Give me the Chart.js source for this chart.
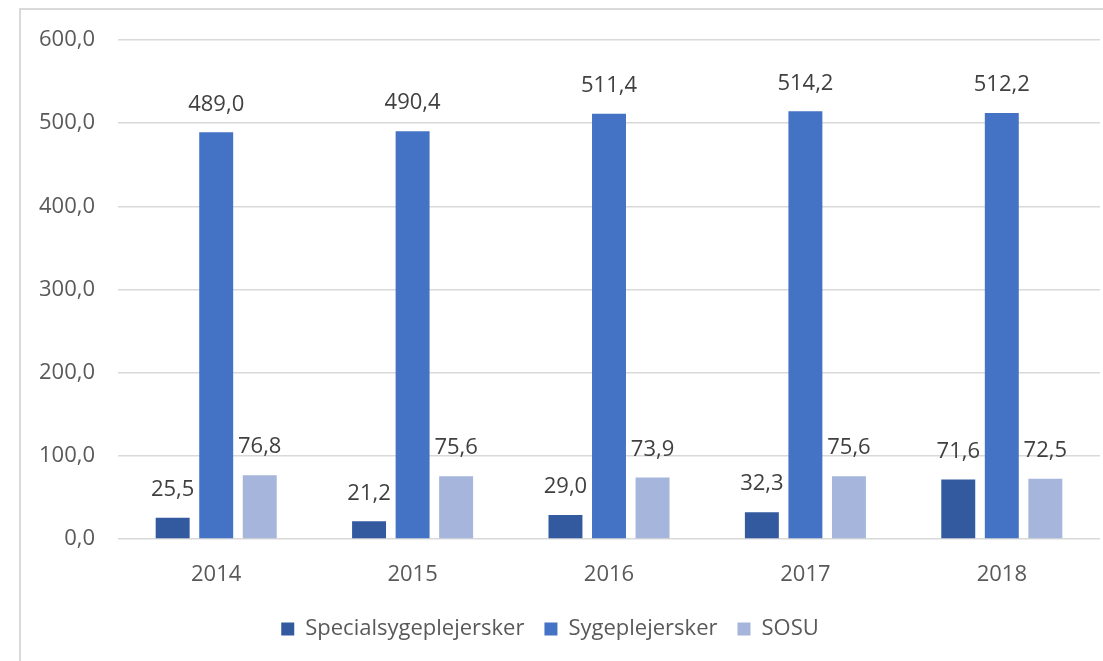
<!DOCTYPE html>
<html>
<head>
<meta charset="utf-8">
<script src="https://cdn.jsdelivr.net/npm/chart.js@4.4.1/dist/chart.umd.min.js"></script>
<style>
  html, body { margin: 0; padding: 0; background: #fff; }
  #frame { position: absolute; left: 19px; top: 8px; width: 1200px; height: 800px; border: 2px solid #d9d9d9; }
  #wrap { position: absolute; left: 0; top: 0; width: 1103px; height: 661px; }
</style>
</head>
<body>
<div id="frame"></div>
<div id="wrap"><canvas id="chart" width="1103" height="661"></canvas></div>
<script>
// kategorier (år)
const years = ['2014', '2015', '2016', '2017', '2018'];
// serier
const special = [25.5, 21.2, 29.0, 32.3, 71.6];
const syge = [489.0, 490.4, 511.4, 514.2, 512.2];
const sosu = [76.8, 75.6, 73.9, 75.6, 72.5];
// y-akse
const yTicks = [0, 100, 200, 300, 400, 500, 600];

const fmt = v => v.toFixed(1).replace('.', ',');
const FONT = 'Open Sans';

// tegner værdierne over søjlerne
const valueLabels = {
    id: 'valueLabels',
    afterDatasetsDraw(chart) {
        const ctx = chart.ctx;
        ctx.save();
        ctx.font = '22px "' + FONT + '"';
        ctx.fillStyle = '#404040';
        ctx.textAlign = 'center';
        ctx.textBaseline = 'bottom';
        chart.data.datasets.forEach((ds, i) => {
            chart.getDatasetMeta(i).data.forEach((bar, j) => {
                ctx.fillText(fmt(ds.data[j]), bar.x, bar.y - 17);
            });
        });
        ctx.restore();
    }
};

new Chart(document.getElementById('chart'), {
    type: 'bar',
    data: {
        labels: years,
        datasets: [
            { label: 'Specialsygeplejersker', data: special, backgroundColor: '#335A9F' },
            { label: 'Sygeplejersker', data: syge, backgroundColor: '#4472C4' },
            { label: 'SOSU', data: sosu, backgroundColor: '#A6B5DB' }
        ]
    },
    options: {
        responsive: false,
        animation: false,
        devicePixelRatio: 1,
        categoryPercentage: 0.665,
        barPercentage: 0.78,
        layout: { padding: { top: 40, right: 3, bottom: 11, left: 0 } },
        plugins: {
            legend: {
                position: 'bottom',
                labels: {
                    font: { family: FONT, size: 22 },
                    color: '#595959',
                    boxWidth: 13,
                    boxHeight: 13,
                    padding: 20
                }
            },
            tooltip: { enabled: false }
        },
        scales: {
            x: {
                afterFit: axis => { axis.height = 59; },
                grid: { display: false, drawTicks: false },
                border: { display: false },
                ticks: { font: { family: FONT, size: 22 }, color: '#595959', padding: 23 }
            },
            y: {
                min: 0,
                max: 600,
                afterBuildTicks: axis => { axis.ticks = yTicks.map(v => ({ value: v })); },
                afterFit: axis => { axis.width = 118; },
                grid: { color: '#d9d9d9', lineWidth: 1.5, drawTicks: false },
                border: { display: false },
                ticks: {
                    font: { family: FONT, size: 22 },
                    color: '#595959',
                    padding: 23,
                    callback: v => fmt(v)
                }
            }
        }
    },
    plugins: [valueLabels]
});
</script>
</body>
</html>
